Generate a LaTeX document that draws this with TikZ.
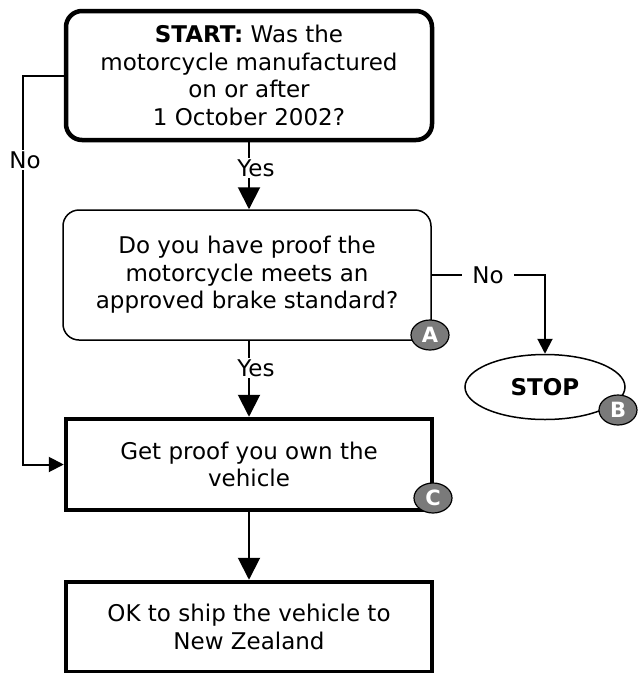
\documentclass[tikz,border=0pt]{standalone}
\usepackage{fontspec}
\setmainfont{DejaVu Sans}
\usetikzlibrary{shapes.geometric,arrows.meta}
\tikzset{
  txt/.style={font=\fontsize{23}{27.5}\selectfont, align=center},
  thickbox/.style={draw, line width=4.5pt, txt, inner sep=0pt},
  thinbox/.style={draw, line width=1.5pt, txt, inner sep=0pt},
  badge/.style={ellipse, draw, line width=1.2pt, fill=black!52, text=white, inner sep=0pt,
    minimum width=38pt, minimum height=30pt, font=\fontsize{21}{21}\selectfont\bfseries},
  conn/.style={line width=2pt},
  arr/.style={conn, -{Triangle[width=22pt,length=22pt]}},
  sarr/.style={conn, -{Triangle[width=15pt,length=15pt]}},
  lbl/.style={fill=white, inner sep=1pt, font=\fontsize{23}{23}\selectfont}
}
\begin{document}
\begin{tikzpicture}[x=1pt,y=-1pt]
\useasboundingbox (0,0) rectangle (638,673);
\node[thickbox, rounded corners=16pt, minimum width=366pt, minimum height=129pt] (start) at (249,75.5)
  {\textbf{START:} Was the\\motorcycle manufactured\\on or after\\1 October 2002?};
\node[thinbox, rounded corners=16pt, minimum width=368pt, minimum height=130pt] (qa) at (247,275)
  {Do you have proof the\\motorcycle meets an\\approved brake standard?};
\node[thinbox, ellipse, minimum width=160pt, minimum height=65pt] (stop) at (545,387) {\textbf{STOP}};
\node[thickbox, minimum width=366pt, minimum height=91pt] (own) at (249,464.5)
  {Get proof you own the\\vehicle};
\node[thickbox, minimum width=366pt, minimum height=90pt] (ok) at (249,627)
  {OK to ship the vehicle to\\New Zealand};
\node[badge] (ba) at (430,335) {A};
\node[badge] (bb) at (618,410) {B};
\node[badge] (bc) at (433,498) {C};

\coordinate (l1) at (23,76);
\coordinate (l2) at (23,464.5);
\draw[sarr] (start.west |- l1) -- (l1) -- (l2) -- (own.west |- l2);
\node[lbl] (nol) at (25,160) {No};

\draw[arr] (start.south) -- (start.south |- qa.north);
\node[lbl] (yes1) at (256,168) {Yes};

\coordinate (r1) at (545,275);
\draw[sarr] (qa.east |- r1) -- (r1) -- (stop.north);
\node[lbl, inner xsep=10pt] (nor) at (488,275) {No};

\draw[arr] (qa.south -| start.south) -- (own.north -| start.south);
\node[lbl] (yes2) at (256,368) {Yes};

\draw[arr] (own.south) -- (ok.north);
\end{tikzpicture}
\end{document}
